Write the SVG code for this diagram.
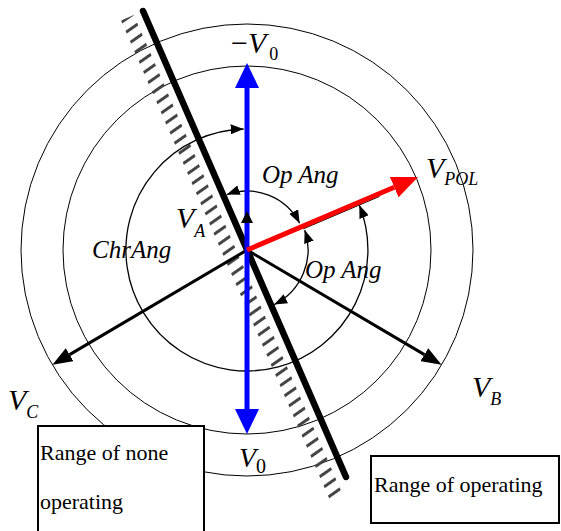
<svg xmlns="http://www.w3.org/2000/svg" width="561" height="531" viewBox="0 0 561 531">
<style>
.ln{stroke:#000;fill:none;stroke-width:1}
.arc{stroke:#000;fill:none;stroke-width:1.3}
.lbl{font-family:"Liberation Serif","Times New Roman",serif;font-size:30px;fill:#000}
.it{font-style:italic}
.sub{font-size:18px}
.ang{font-family:"Liberation Serif","Times New Roman",serif;font-style:italic;font-size:25px;fill:#000}
.box{fill:#fff;stroke:#000;stroke-width:2}
.boxt{font-family:"Liberation Serif","Times New Roman",serif;font-size:22px;fill:#000}
</style>
<defs>
<marker id="aBlue" markerUnits="userSpaceOnUse" markerWidth="25" markerHeight="24" refX="0" refY="12" orient="auto-start-reverse"><path d="M0,0 L25,12 L0,24 z" fill="#0000ff"/></marker>
<marker id="aRed" markerUnits="userSpaceOnUse" markerWidth="26" markerHeight="22" refX="0" refY="11" orient="auto-start-reverse"><path d="M0,0 L26,11 L0,22 z" fill="#ff0000"/></marker>
<marker id="aBlk" markerUnits="userSpaceOnUse" markerWidth="20" markerHeight="15" refX="0" refY="7.5" orient="auto-start-reverse"><path d="M0,0 L20,7.5 L0,15 z" fill="#000"/></marker>
<marker id="aSm" markerUnits="userSpaceOnUse" markerWidth="13" markerHeight="10" refX="13" refY="5" orient="auto-start-reverse"><path d="M0,0 L13,5 L0,10 z" fill="#000"/></marker>
<pattern id="hatch" patternUnits="userSpaceOnUse" width="10" height="10.8" patternTransform="rotate(-35)"><rect x="0" y="0" width="10" height="3" fill="#444"/></pattern>
</defs>
<rect width="561" height="531" fill="#fff"/>
<g id="circles">
<circle class="ln" cx="247" cy="250" r="226"/>
<circle class="ln" cx="247" cy="250" r="184"/>
</g>
<g id="hatching">
<polygon points="133.8,15 121,20.6 330.3,501 343.1,495.4" fill="url(#hatch)"/>
</g>
<g id="connectors">
<line x1="143" y1="11" x2="346" y2="477" stroke="#000" stroke-width="6.5" stroke-linecap="round"/>
<path class="arc" d="M243.6,129 A121,121 0 1 0 359.3,205.1" marker-start="url(#aSm)" marker-end="url(#aSm)"/>
<path class="arc" d="M226.8,194.6 A59,59 0 0 1 299.6,223.2" marker-start="url(#aSm)" marker-end="url(#aSm)"/>
<path class="arc" d="M304.7,230.1 A61,61 0 0 1 274.2,304.6" marker-start="url(#aSm)" marker-end="url(#aSm)"/>
<line x1="247" y1="250" x2="69.6" y2="354.6" stroke="#000" stroke-width="3" marker-end="url(#aBlk)"/>
<line x1="247" y1="250" x2="424.4" y2="354.6" stroke="#000" stroke-width="3" marker-end="url(#aBlk)"/>
<line x1="247" y1="88" x2="247" y2="409" stroke="#0000ff" stroke-width="5" marker-start="url(#aBlue)" marker-end="url(#aBlue)"/>
<polygon points="247,211 253,223 241,223" fill="#000"/>
<line x1="303.2" y1="228.9" x2="379.6" y2="196.4" stroke="#000" stroke-width="1"/>
<line x1="247" y1="250" x2="394.2" y2="187.2" stroke="#ff0000" stroke-width="5" marker-end="url(#aRed)"/>
</g>
<g id="label-negV0"><text class="lbl" x="231" y="53">−<tspan class="it">V</tspan><tspan class="sub" dx="3" dy="7">0</tspan></text></g>
<g id="label-VA"><text class="lbl it" x="176" y="228">V<tspan class="sub" dx="0" dy="9">A</tspan></text></g>
<g id="label-VPOL"><text class="lbl it" x="426" y="178">V<tspan class="sub" dx="0" dy="7">POL</tspan></text></g>
<g id="label-VC"><text class="lbl it" x="8" y="410">V<tspan class="sub" dx="0" dy="8">C</tspan></text></g>
<g id="label-VB"><text class="lbl it" x="472" y="397">V<tspan class="sub" dx="0" dy="8">B</tspan></text></g>
<g id="label-V0"><text class="lbl" x="239" y="467" style="font-size:28px"><tspan class="it">V</tspan><tspan dx="0" dy="6" style="font-size:20px">0</tspan></text></g>
<g id="label-opang1"><text class="ang" x="262" y="183">Op Ang</text></g>
<g id="label-opang2"><text class="ang" x="305" y="278">Op Ang</text></g>
<g id="label-chrang"><text class="ang" x="92" y="258">ChrAng</text></g>
<g id="box-nonoperating">
<rect class="box" x="38" y="426" width="166" height="112"/>
<text class="boxt" x="40" y="460">Range of none</text>
<text class="boxt" x="40" y="509">operating</text>
</g>
<g id="box-operating">
<rect class="box" x="371" y="456" width="188" height="67"/>
<text class="boxt" x="374" y="492">Range of operating</text>
</g>
</svg>
